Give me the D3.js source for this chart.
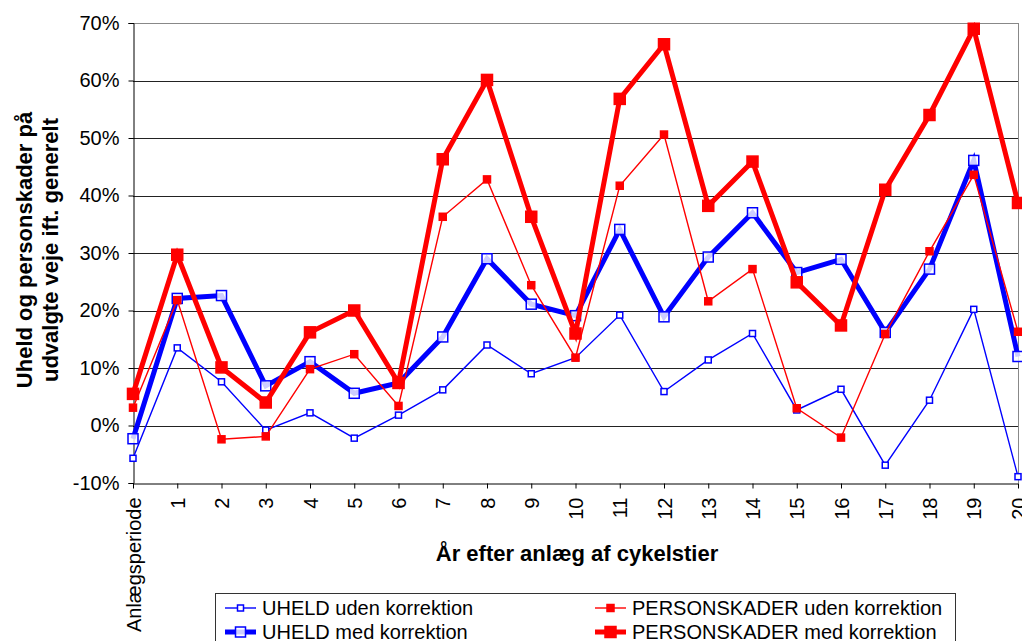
<!DOCTYPE html>
<html><head><meta charset="utf-8">
<script src="https://cdn.jsdelivr.net/npm/d3@7"></script>
<style>body{margin:0;background:#fff}svg{display:block;font-family:"Liberation Sans",Arial,sans-serif}</style>
</head><body><svg id="c" width="1022" height="641"></svg>
<script>
const categories = ["Anlægsperiode","1","2","3","4","5","6","7","8","9","10","11","12","13","14","15","16","17","18","19","20"];
const uheldUden = [-5.7,13.5,7.6,-0.8,2.2,-2.2,1.8,6.2,14.0,9.0,11.8,19.2,5.9,11.4,16.0,2.7,6.3,-6.9,4.4,20.2,-8.9];
const uheldMed = [-2.3,22.1,22.6,6.9,11.1,5.6,7.4,15.4,29.0,21.1,19.1,34.1,18.9,29.3,37.0,26.6,28.9,16.2,27.2,46.1,12.0];
const personUden = [3.1,21.8,-2.4,-1.9,9.8,12.4,3.4,36.3,42.8,24.4,11.8,41.7,50.6,21.6,27.2,3.0,-2.1,15.9,30.3,43.6,16.3];
const personMed = [5.5,29.7,10.1,4.0,16.2,20.0,7.4,46.3,60.1,36.3,16.0,56.8,66.3,38.2,45.9,24.9,17.4,41.0,54.0,69.0,38.7];
const yTicks = [-10,0,10,20,30,40,50,60,70];
const seriesNames = ["UHELD uden korrektion","UHELD med korrektion","PERSONSKADER uden korrektion","PERSONSKADER med korrektion"];

const svg = d3.select("#c");
const L=133,R=1018,T=23,B=483;
const x = d3.scalePoint().domain(d3.range(categories.length)).range([L,R]);
const y = d3.scaleLinear().domain([-10,70]).range([B,T]);

// gridlines
svg.append("g").selectAll("line").data(yTicks.filter(v=>v>-10)).join("line")
  .attr("x1",L).attr("x2",R).attr("y1",d=>Math.round(y(d))+0.5).attr("y2",d=>Math.round(y(d))+0.5)
  .attr("stroke",d=>d===70?"#888":"#222").attr("stroke-width",1);
// right border
svg.append("line").attr("x1",R+0.5).attr("x2",R+0.5).attr("y1",T).attr("y2",B).attr("stroke","#888");

// y axis
const ya = svg.append("g").attr("transform",`translate(${L+0.5},0)`)
  .call(d3.axisLeft(y).tickValues(yTicks).tickFormat(d=>d+"%").tickSize(5).tickPadding(9));
ya.select(".domain").attr("stroke","#000");
ya.selectAll(".tick line").attr("stroke","#000");
ya.selectAll("text").attr("font-size",20).attr("fill","#000").attr("font-family","Liberation Sans, Arial, sans-serif");

// x axis
const xa = svg.append("g").attr("transform",`translate(0,${B+0.5})`)
  .call(d3.axisBottom(x).tickFormat(i=>categories[i]).tickSize(5).tickSizeOuter(0));
xa.select(".domain").attr("stroke","#000");
xa.selectAll(".tick line").attr("stroke","#000");
xa.selectAll("text").attr("font-size",20).attr("fill","#000").attr("font-family","Liberation Sans, Arial, sans-serif")
  .attr("transform","rotate(-90)").attr("text-anchor","end").attr("x",-14).attr("y",0).attr("dy","0.36em");

// axis titles
const yt = svg.append("text").attr("transform","translate(0,250) rotate(-90)").attr("text-anchor","middle")
  .attr("font-size",22).attr("font-weight","bold");
yt.append("tspan").attr("x",0).attr("y",32).text("Uheld og personskader på");
yt.append("tspan").attr("x",0).attr("y",58).text("udvalgte veje ift. generelt");
svg.append("text").attr("x",577).attr("y",561).attr("text-anchor","middle").attr("font-size",22)
  .attr("font-weight","bold").text("År efter anlæg af cykelstier");

const styles = [
  {data:uheldUden,color:"#0000ff",lw:1.4,ms:6,fill:"#fff",fo:1},
  {data:uheldMed,color:"#0000ff",lw:5,ms:10,fill:"#fff",fo:0.8},
  {data:personUden,color:"#ff0000",lw:1.4,ms:7,fill:"#ff0000",fo:1},
  {data:personMed,color:"#ff0000",lw:5,ms:11,fill:"#ff0000",fo:1}
];
const line = d3.line().x((d,i)=>x(i)).y(d=>y(d));
styles.forEach(s=>{
  const g = svg.append("g");
  g.append("path").datum(s.data).attr("d",line).attr("fill","none").attr("stroke",s.color)
    .attr("stroke-width",s.lw).attr("stroke-linejoin","miter");
  g.selectAll("rect").data(s.data).join("rect")
    .attr("x",(d,i)=>x(i)-s.ms/2).attr("y",d=>y(d)-s.ms/2).attr("width",s.ms).attr("height",s.ms)
    .attr("fill",s.fill).attr("fill-opacity",s.fo).attr("stroke",s.color).attr("stroke-width",1.5);
});

// legend
const lg = svg.append("g");
lg.append("rect").attr("x",215.5).attr("y",593.5).attr("width",740).attr("height",60).attr("fill","#fff").attr("stroke","#333");
const pos = [[225,608],[225,632],[595,608],[595,632]];
styles.forEach((s,k)=>{
  const [lx,ly]=pos[k];
  lg.append("line").attr("x1",lx).attr("x2",lx+31).attr("y1",ly).attr("y2",ly).attr("stroke",s.color).attr("stroke-width",s.lw);
  lg.append("rect").attr("x",lx+15.5-s.ms/2).attr("y",ly-s.ms/2).attr("width",s.ms).attr("height",s.ms)
    .attr("fill",s.fill).attr("fill-opacity",s.fo).attr("stroke",s.color).attr("stroke-width",1.5);
  lg.append("text").attr("x",lx+37).attr("y",ly).attr("dy","0.36em").attr("font-size",20).text(seriesNames[k]);
});
</script></body></html>
